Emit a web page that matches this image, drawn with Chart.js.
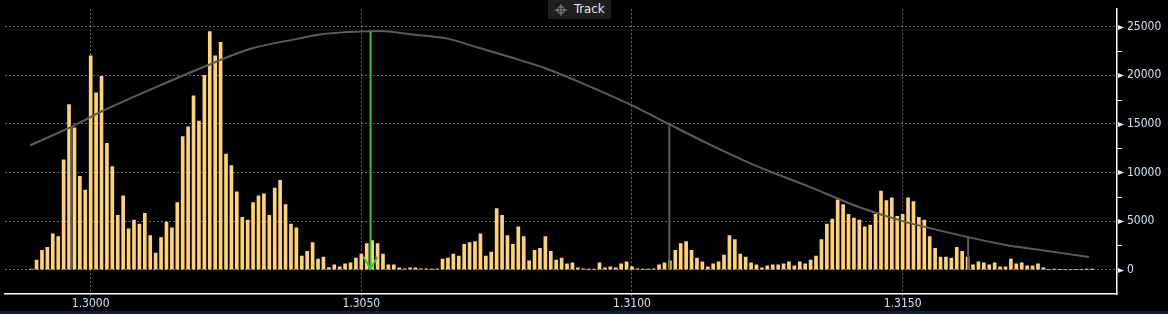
<!DOCTYPE html>
<html>
<head>
<meta charset="utf-8">
<script src="https://cdn.jsdelivr.net/npm/chart.js@4.4.1/dist/chart.umd.min.js"></script>
<style>
  html, body { margin: 0; padding: 0; background: #0b1d3c; width: 1168px; height: 314px; overflow: hidden; }
  #wrap { position: absolute; left: 0; top: 0; width: 1168px; height: 311px; background: #000; }
  #badge { position: absolute; left: 548px; top: 0; width: 63px; height: 19px; background: #1f1f1f;
           font: 13px 'DejaVu Sans Condensed', 'Liberation Sans', sans-serif; color: #e6e8f0; }
  #badge svg { position: absolute; left: 6px; top: 3px; }
  #badge span { position: absolute; left: 26px; top: 1px; }
</style>
</head>
<body>
<div id="wrap"><canvas id="c" width="1168" height="311"></canvas></div>
<div id="badge"><svg width="14" height="14" viewBox="0 0 14 14"><circle cx="7" cy="7" r="3.5" fill="none" stroke="#8a8a8a" stroke-width="1"/><path d="M7 1V13M1 7H13" stroke="#8a8a8a" stroke-width="1"/></svg><span>Track</span></div>
<script>
const prices = [1.2989,1.2990,1.2991,1.2992,1.2993,1.2994,1.2995,1.2996,1.2997,1.2998,1.2999,
1.3000,1.3001,1.3002,1.3003,1.3004,1.3005,1.3006,1.3007,1.3008,1.3009,
1.3010,1.3011,1.3012,1.3013,1.3014,1.3015,1.3016,1.3017,1.3018,1.3019,
1.3020,1.3021,1.3022,1.3023,1.3024,1.3025,1.3026,1.3027,1.3028,1.3029,
1.3030,1.3031,1.3032,1.3033,1.3034,1.3035,1.3036,1.3037,1.3038,1.3039,
1.3040,1.3041,1.3042,1.3043,1.3044,1.3045,1.3046,1.3047,1.3048,1.3049,
1.3050,1.3051,1.3052,1.3053,1.3054,1.3055,1.3056,1.3057,1.3058,1.3059,
1.3060,1.3061,1.3062,1.3063,1.3064,1.3065,1.3066,1.3067,1.3068,1.3069,
1.3070,1.3071,1.3072,1.3073,1.3074,1.3075,1.3076,1.3077,1.3078,1.3079,
1.3080,1.3081,1.3082,1.3083,1.3084,1.3085,1.3086,1.3087,1.3088,1.3089,
1.3090,1.3091,1.3092,1.3093,1.3094,1.3095,1.3096,1.3097,1.3098,1.3099,
1.3100,1.3101,1.3102,1.3103,1.3104,1.3105,1.3106,1.3107,1.3108,1.3109,
1.3110,1.3111,1.3112,1.3113,1.3114,1.3115,1.3116,1.3117,1.3118,1.3119,
1.3120,1.3121,1.3122,1.3123,1.3124,1.3125,1.3126,1.3127,1.3128,1.3129,
1.3130,1.3131,1.3132,1.3133,1.3134,1.3135,1.3136,1.3137,1.3138,1.3139,
1.3140,1.3141,1.3142,1.3143,1.3144,1.3145,1.3146,1.3147,1.3148,1.3149,
1.3150,1.3151,1.3152,1.3153,1.3154,1.3155,1.3156,1.3157,1.3158,1.3159,
1.3160,1.3161,1.3162,1.3163,1.3164,1.3165,1.3166,1.3167,1.3168,1.3169,
1.3170,1.3171,1.3172,1.3173,1.3174,1.3175,1.3176,1.3177,1.3178,1.3179,
1.3180,1.3181,1.3182,1.3183,1.3184,1.3185];

const volumes = [50,1000,2000,2300,3700,3400,11300,17000,14600,9600,8200,
22000,18200,19900,13000,10600,5600,7600,4200,5100,4700,
5800,3500,1700,3300,4900,4300,6900,13700,14700,17900,
15300,20000,24500,22000,23400,11900,10700,8000,5400,5100,
6900,7600,7800,5600,8400,9200,6700,4700,4300,1400,
1900,2800,1100,1300,230,500,300,600,700,1200,
1600,2700,3000,2700,1600,500,500,200,100,200,
200,100,100,30,100,1100,1200,1600,1400,2600,
2800,2900,3700,1400,1800,6300,5600,3500,2600,4400,
3400,900,2000,2200,3400,1900,1000,1200,600,700,
200,100,30,20,700,200,300,200,600,800,
300,100,30,30,100,500,700,900,2000,2700,
2900,2000,1200,800,300,600,800,1500,3500,3100,
1600,1300,700,500,200,400,500,500,600,800,
400,800,600,1000,1400,3100,4700,5200,7200,6700,
5700,5300,5100,4400,4600,5700,8100,7100,7400,5500,
5700,7400,7000,5400,5100,3400,2200,1300,1300,1200,
2300,1900,1300,500,800,700,500,700,300,300,
1100,600,700,400,400,600,200,0,30,0,
0,0,0,0,30,30];

const curvePrices = [1.29888,1.29964,1.30017,1.30109,1.30202,1.30294,1.30386,1.30423,1.30500,1.30534,
1.30595,1.30657,1.30718,1.30779,1.30841,1.30903,1.31000,1.31069,1.31143,1.31235,
1.31327,1.31419,1.31497,1.31621,1.31690,1.31752,1.31844];
const curveValues = [12800,14700,16200,18500,20700,22700,23800,24200,24500,24550,
24200,23800,22800,21800,20700,19300,16900,14950,12900,10550,
8550,6450,5050,3350,2550,2050,1300];

const markerPrices = [1.29964, 1.31069, 1.31621];
const markerTops = [14700, 14950, 3350];
const pocPrice = 1.30517;
const pocTop = 24500;

const xTickValues = [1.3000, 1.3050, 1.3100, 1.3150];
const yTickValues = [0,2500,5000,7500,10000,12500,15000,17500,20000,22500,25000];

const FONT = "'DejaVu Sans Condensed', 'Liberation Sans', sans-serif";
const GRID = 'rgba(125,125,125,0.85)';

const datasets = [];
datasets.push({
  type: 'bar', label: 'Volume',
  data: prices.map((p, i) => ({x: p, y: volumes[i]})),
  backgroundColor: '#ffd27a', borderWidth: 0, barThickness: 3, order: 10
});
datasets.push({
  type: 'line', label: 'Curve',
  data: curvePrices.map((p, i) => ({x: p, y: curveValues[i]})),
  borderColor: '#5c5c5c', borderWidth: 2, pointRadius: 0, tension: 0.3,
  cubicInterpolationMode: 'monotone', order: 5
});
markerPrices.forEach((p, i) => {
  datasets.push({
    type: 'line', label: 'm' + i,
    data: [{x: p, y: markerTops[i]}, {x: p, y: 0}],
    borderColor: '#5a5a5a', borderWidth: 2, pointRadius: 0, order: 3
  });
});
datasets.push({
  type: 'line', label: 'poc',
  data: [{x: pocPrice, y: pocTop}, {x: pocPrice, y: 0}],
  borderColor: '#2fc93a', borderWidth: 2, pointRadius: 0, order: 1
});

const decor = {
  id: 'decor',
  afterDatasetsDraw(chart) {
    const ctx = chart.ctx, xs = chart.scales.x, ys = chart.scales.y;
    // arrow head
    const px = xs.getPixelForValue(pocPrice), py = ys.getPixelForValue(0);
    ctx.save();
    ctx.strokeStyle = '#2fc93a'; ctx.lineWidth = 2;
    ctx.beginPath();
    ctx.moveTo(px - 7, py - 13); ctx.lineTo(px, py - 1); ctx.lineTo(px + 7, py - 13);
    ctx.stroke();
    ctx.restore();
  },
  afterDraw(chart) {
    const ctx = chart.ctx, ys = chart.scales.y, x0 = chart.chartArea.right;
    ctx.save();
    yTickValues.forEach(v => {
      const py = Math.round(ys.getPixelForValue(v)) + 0.5;
      if (v % 5000 === 0) {
        ctx.fillStyle = '#e8ecf2';
        ctx.beginPath();
        ctx.moveTo(x0 + 1, py - 2.5); ctx.lineTo(x0 + 7, py); ctx.lineTo(x0 + 1, py + 2.5);
        ctx.closePath(); ctx.fill();
      } else {
        ctx.strokeStyle = '#e8ecf2'; ctx.lineWidth = 1;
        ctx.beginPath(); ctx.moveTo(x0, py); ctx.lineTo(x0 + 5, py); ctx.stroke();
      }
    });
    ctx.restore();
  }
};

new Chart(document.getElementById('c'), {
  type: 'bar',
  data: { datasets },
  plugins: [decor],
  options: {
    responsive: false, animation: false,
    layout: { padding: { left: 5, top: 0, right: 0, bottom: 0 } },
    plugins: { legend: { display: false }, tooltip: { enabled: false } },
    scales: {
      x: {
        type: 'linear', offset: false, min: 1.298417, max: 1.31896,
        afterBuildTicks: s => { s.ticks = xTickValues.map(v => ({value: v})); },
        afterFit: s => { s.height = 17; },
        grid: { offset: false, color: GRID, lineWidth: 1, drawTicks: true, tickLength: 3, tickColor: GRID, tickBorderDash: [2, 2] },
        border: { display: true, color: '#ffffff', width: 1.5, dash: [2, 2] },
        ticks: { color: '#cfe2f7', font: { family: FONT, size: 12 }, padding: 0, maxRotation: 0,
                 callback: v => Number(v).toFixed(4) }
      },
      y: {
        position: 'right', min: -2500, max: 26800,
        afterBuildTicks: s => { s.ticks = yTickValues.map(v => ({value: v})); },
        afterFit: s => { s.width = 51; },
        grid: { color: c => (c.tick && c.tick.value % 5000 === 0) ? GRID : 'rgba(0,0,0,0)', lineWidth: 1,
                drawTicks: true, tickLength: 8, tickColor: 'rgba(0,0,0,0)' },
        border: { display: true, color: '#ffffff', width: 1.5, dash: [2, 2] },
        ticks: { color: '#cfe2f7', font: { family: FONT, size: 12 }, padding: 2,
                 callback: v => (v % 5000 === 0 ? String(v) : '') }
      }
    }
  }
});
</script>
</body>
</html>
